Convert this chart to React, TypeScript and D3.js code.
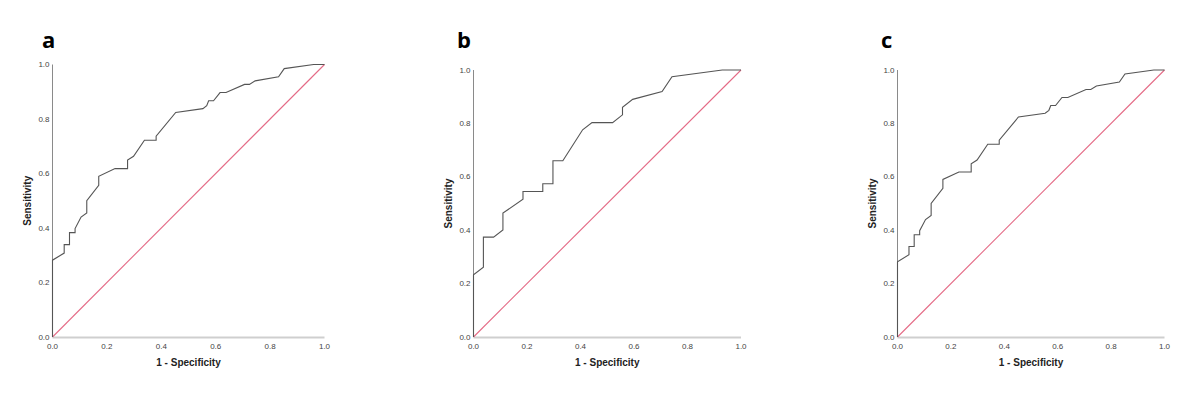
import React from "react";
import * as d3 from "d3";

const panelLabels = ["a", "b", "c"];
const xTicks = [0, 0.2, 0.4, 0.6, 0.8, 1.0];
const yTicks = [0, 0.2, 0.4, 0.6, 0.8, 1.0];
const xTitle = "1 - Specificity";
const yTitle = "Sensitivity";

const fprA = [0, 0, 0.043, 0.043, 0.0625, 0.0625, 0.083, 0.083, 0.105, 0.126, 0.126, 0.17, 0.17, 0.23, 0.276, 0.276, 0.298, 0.338, 0.381, 0.381, 0.453, 0.553, 0.567, 0.574, 0.592, 0.616, 0.638, 0.706, 0.724, 0.745, 0.831, 0.852, 0.96, 1];
const tprA = [0, 0.282, 0.308, 0.339, 0.339, 0.383, 0.383, 0.398, 0.44, 0.455, 0.50, 0.557, 0.59, 0.618, 0.618, 0.649, 0.663, 0.722, 0.722, 0.737, 0.824, 0.838, 0.849, 0.867, 0.867, 0.897, 0.897, 0.927, 0.927, 0.940, 0.955, 0.985, 1.0, 1];

const fprB = [0, 0, 0.037, 0.037, 0.075, 0.11, 0.11, 0.185, 0.185, 0.259, 0.259, 0.297, 0.297, 0.334, 0.408, 0.443, 0.52, 0.557, 0.557, 0.595, 0.705, 0.742, 0.93, 1];
const tprB = [0, 0.233, 0.261, 0.374, 0.374, 0.401, 0.464, 0.516, 0.545, 0.545, 0.574, 0.574, 0.66, 0.66, 0.776, 0.803, 0.803, 0.832, 0.86, 0.89, 0.919, 0.975, 1.0, 1];

const fprC = fprA;
const tprC = tprA;

const series = [
  { fpr: fprA, tpr: tprA },
  { fpr: fprB, tpr: tprB },
  { fpr: fprC, tpr: tprC },
];

const layouts = [
  { x0: 52.5, x1: 324.5, yTop: 64.5, yBot: 337, labelX: 42, yTitleX: 27 },
  { x0: 473.5, x1: 741, yTop: 70, yBot: 337, labelX: 457, yTitleX: 448 },
  { x0: 897.5, x1: 1164.5, yTop: 70, yBot: 337, labelX: 881, yTitleX: 872 },
];

const font = "'Liberation Sans', Arial, sans-serif";
const labelFont = "'Open Sans', 'Liberation Sans', sans-serif";

function Panel({ idx }: { idx: number }) {
  const L = layouts[idx];
  const s = series[idx];
  const x = d3.scaleLinear().domain([0, 1]).range([L.x0, L.x1]);
  const y = d3.scaleLinear().domain([0, 1]).range([L.yBot, L.yTop]);
  const pts: [number, number][] = s.fpr.map((f, i) => [f, s.tpr[i]]);
  const line = d3
    .line<[number, number]>()
    .x((d) => x(d[0]))
    .y((d) => y(d[1]));
  const diag = line([
    [0, 0],
    [1, 1],
  ]);
  return (
    <g>
      <text x={L.labelX} y={48} fontFamily={labelFont} fontWeight="bold" fontSize={22} fill="#000">
        {panelLabels[idx]}
      </text>
      <line x1={L.x0} x2={L.x0} y1={L.yTop} y2={L.yBot} stroke="#8a8a8a" strokeWidth={1} />
      <line x1={L.x0} x2={L.x1} y1={L.yBot + 0.5} y2={L.yBot + 0.5} stroke="#cfcfcf" strokeWidth={2} />
      {yTicks.map((t) => (
        <text
          key={"y" + t}
          x={L.x0 - 3}
          y={y(t)}
          dy="0.33em"
          textAnchor="end"
          fontFamily={font}
          fontSize={8}
          fill="#444"
        >
          {t.toFixed(1)}
        </text>
      ))}
      {xTicks.map((t) => (
        <text
          key={"x" + t}
          x={x(t)}
          y={L.yBot + 9}
          dy="0.33em"
          textAnchor="middle"
          fontFamily={font}
          fontSize={8}
          fill="#444"
        >
          {t.toFixed(1)}
        </text>
      ))}
      <path d={diag || ""} fill="none" stroke="#e46a86" strokeWidth={1.1} />
      <path d={line(pts) || ""} fill="none" stroke="#555" strokeWidth={1.1} />
      <text
        x={(L.x0 + L.x1) / 2}
        y={362}
        dy="0.35em"
        textAnchor="middle"
        fontFamily={font}
        fontWeight="bold"
        fontSize={10}
        fill="#222"
      >
        {xTitle}
      </text>
      <text
        transform={`translate(${L.yTitleX},${(L.yTop + L.yBot) / 2}) rotate(-90)`}
        dy="0.35em"
        textAnchor="middle"
        fontFamily={font}
        fontWeight="bold"
        fontSize={10}
        fill="#222"
      >
        {yTitle}
      </text>
    </g>
  );
}

export default function App() {
  return (
    <svg
      width={1200}
      height={397}
      style={{ position: "absolute", left: 0, top: 0, background: "#fff" }}
    >
      <rect width={1200} height={397} fill="#fff" />
      {[0, 1, 2].map((i) => (
        <Panel key={i} idx={i} />
      ))}
    </svg>
  );
}
